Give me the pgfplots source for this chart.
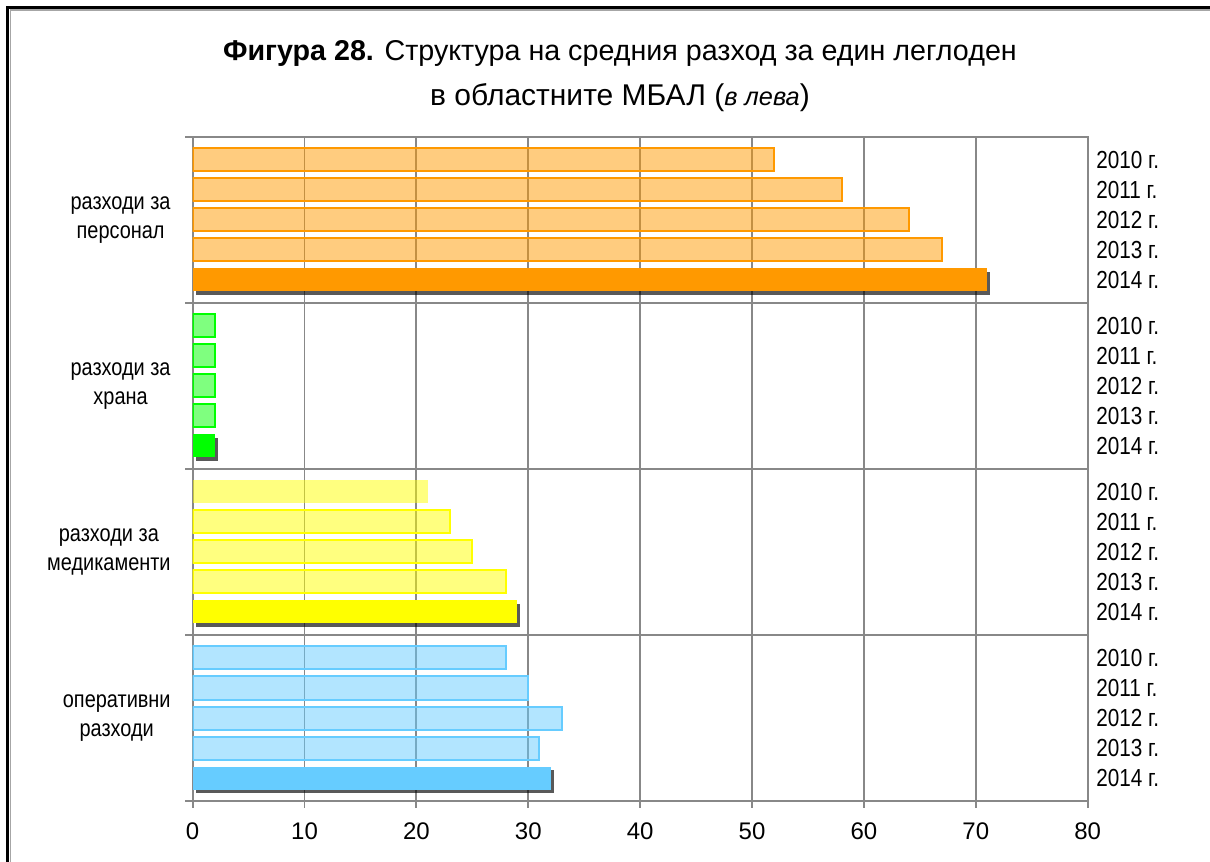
\documentclass[border=0pt]{standalone}
\usepackage{fontspec}
\setmainfont{Liberation Sans}
\newfontfamily\narrowfont[FakeStretch=0.84]{Liberation Sans}
\usepackage{pgfplots}
\pgfplotsset{compat=1.18}
\usetikzlibrary{shadows}

\definecolor{cOrange}{HTML}{FF9900}
\definecolor{cGreen}{HTML}{00FF00}
\definecolor{cYellow}{HTML}{FFFF00}
\definecolor{cBlue}{HTML}{66CCFF}
\definecolor{cGrid}{HTML}{888888}

\pgfplotsset{
  light/.style={xbar, draw=#1, fill=#1, fill opacity=0.5, draw opacity=1, line width=1.5pt},
  solid/.style={xbar, draw=none, fill=#1,
    drop shadow={shadow xshift=2.5pt, shadow yshift=-2.5pt, opacity=0.65, fill=black}},
}

\begin{document}
\begin{tikzpicture}
\path[use as bounding box] (0,0) rectangle (907.5pt,646.5pt);

% frame
\draw[black, line width=2.25pt] (5.625pt,0) -- (5.625pt,640.875pt) -- (907.5pt,640.875pt);
\draw[gray!70, line width=1.1pt] (7.8pt,0) -- (7.8pt,639pt) -- (907.5pt,639pt);

% title
\node[anchor=base, font=\fontsize{21.5}{25}\selectfont] at (465pt,601pt)
  {\textbf{Фигура 28.} Структура на средния разход за един леглоден};
\node[anchor=base, font=\fontsize{22.5}{26}\selectfont] at (465pt,567pt)
  {в областните МБАЛ ({\itshape\fontsize{19}{22}\selectfont в лева})};

\begin{axis}[
  at={(144.5pt,45.75pt)}, anchor=south west,
  width=671.25pt, height=498pt, scale only axis,
  xmin=0, xmax=80, ymin=0, ymax=664, y dir=reverse,
  bar width=23, bar shift=0pt,
  xtick={0,10,...,80},
  xmajorgrids,
  ytick={83,249,415,581},
  yticklabels={{разходи за\\персонал},{разходи за\\храна},{разходи за\\медикаменти},{оперативни\\разходи}},
  minor ytick={0,166,332,498,664},
  yminorgrids,
  tick align=outside, tick pos=left,
  major tick length=5pt, minor tick length=5.5pt,
  major y tick style={draw=none},
  tick style={cGrid, line width=1.4pt},
  grid style={cGrid, line width=1.4pt},
  minor grid style={cGrid, line width=1.4pt},
  axis line style={cGrid, line width=1.4pt},
  /pgf/number format/assume math mode=true,
  xticklabel style={font=\fontsize{18}{20}\selectfont, yshift=-8pt},
  yticklabel style={align=center, font=\narrowfont\fontsize{17.8}{22}\selectfont, xshift=-8pt},
]
% разходи за персонал
\addplot[light=cOrange] coordinates {(52,23) (58,53) (64,83) (67,113)};
\addplot[solid=cOrange] coordinates {(71,143)};
% разходи за храна
\addplot[light=cGreen] coordinates {(2,189) (2,219) (2,249) (2,279)};
\addplot[solid=cGreen] coordinates {(2,309)};
% разходи за медикаменти
\addplot[xbar, draw=none, fill=cYellow, fill opacity=0.5] coordinates {(21,355)};
\addplot[light=cYellow] coordinates {(23,385) (25,415) (28,445)};
\addplot[solid=cYellow] coordinates {(29,475)};
% оперативни разходи
\addplot[light=cBlue] coordinates {(28,521) (30,551) (33,581) (31,611)};
\addplot[solid=cBlue] coordinates {(32,641)};
\end{axis}

% year labels on the right
\begin{axis}[
  at={(144.5pt,45.75pt)}, anchor=south west,
  width=671.25pt, height=498pt, scale only axis,
  xmin=0, xmax=80, ymin=0, ymax=664, y dir=reverse,
  hide x axis, axis y line*=right, y axis line style={draw=none},
  major tick length=0pt,
  ytick={23,53,83,113,143,189,219,249,279,309,355,385,415,445,475,521,551,581,611,641},
  yticklabels={2010 г.,2011 г.,2012 г.,2013 г.,2014 г.,2010 г.,2011 г.,2012 г.,2013 г.,2014 г.,
               2010 г.,2011 г.,2012 г.,2013 г.,2014 г.,2010 г.,2011 г.,2012 г.,2013 г.,2014 г.},
  yticklabel style={font=\narrowfont\fontsize{18.5}{21}\selectfont, xshift=3pt},
]
\end{axis}
\end{tikzpicture}
\end{document}
